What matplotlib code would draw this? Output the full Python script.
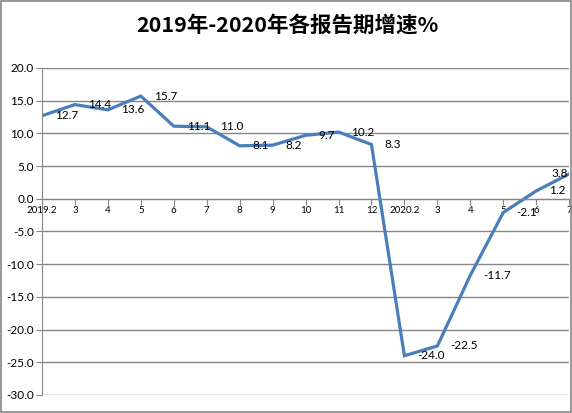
import numpy as np
import matplotlib
matplotlib.use('Agg')
import matplotlib.pyplot as plt
from matplotlib.patches import Rectangle

# The data
periods = ['2019.2', '3', '4', '5', '6', '7', '8', '9', '10', '11', '12',
           '2020.2', '3', '4', '5', '6', '7']
growth = [12.7, 14.4, 13.6, 15.7, 11.1, 11.0, 8.1, 8.2, 9.7, 10.2, 8.3,
          -24.0, -22.5, -11.7, -2.1, 1.2, 3.8]
y_ticks = [20, 15, 10, 5, 0, -5, -10, -15, -20, -25, -30]

# The colors
line_color = '#4a7ebb'
grid_color = '#868686'
text_color = '#000000'

plt.rcParams['font.family'] = ['Lato', 'DejaVu Sans']

fig = plt.figure(figsize=(5.72, 4.13), dpi=100)
ax = fig.add_axes([0.0734, 0.0436, 0.9216, 0.7918])

x = np.arange(len(periods))
ax.plot(x, growth, color=line_color, linewidth=2.3, solid_joinstyle='miter')

# Data labels, to the right of each point
for i, v in enumerate(growth):
    if i == len(growth) - 1:
        ax.annotate('%.1f' % v, (x[i], v), xytext=(-1, 0), textcoords='offset pixels',
                    ha='right', va='center', fontsize=8.5, color=text_color)
    else:
        ax.annotate('%.1f' % v, (x[i], v), xytext=(13, 0), textcoords='offset pixels',
                    ha='left', va='center', fontsize=8.5, color=text_color)

# Axis limits and ticks
ax.set_xlim(0, len(periods) - 1)
ax.set_ylim(-30, 20)
ax.set_yticks(y_ticks)
ax.set_yticklabels(['%.1f' % t for t in y_ticks])
ax.set_xticks(x)
ax.set_xticklabels(periods)

# Horizontal gridlines only
ax.yaxis.grid(True, color=grid_color, linewidth=1)
ax.set_axisbelow(True)

# The x axis crosses at zero
ax.spines['bottom'].set_position(('data', 0))
ax.spines['bottom'].set_color(grid_color)
ax.spines['left'].set_color(grid_color)
ax.spines[['top', 'right']].set_visible(False)

ax.tick_params(axis='x', direction='out', length=4, color=grid_color,
               labelsize=7, pad=1, labelcolor=text_color)
ax.tick_params(axis='y', direction='out', length=4, color=grid_color,
               labelsize=8.5, pad=2, labelcolor=text_color)

# Title
fig.text(0.502, 0.94, '2019年-2020年各报告期增速%', ha='center', va='center',
         fontsize=15.5, fontweight='bold', color=text_color,
         family=['Noto Sans CJK SC', 'DejaVu Sans'])

# Outer border of the chart
fig.patches.append(Rectangle((0.001, 0.003), 0.997, 0.995, transform=fig.transFigure,
                             fill=False, edgecolor=grid_color, linewidth=1.2))

plt.savefig('out.png', dpi=100)
